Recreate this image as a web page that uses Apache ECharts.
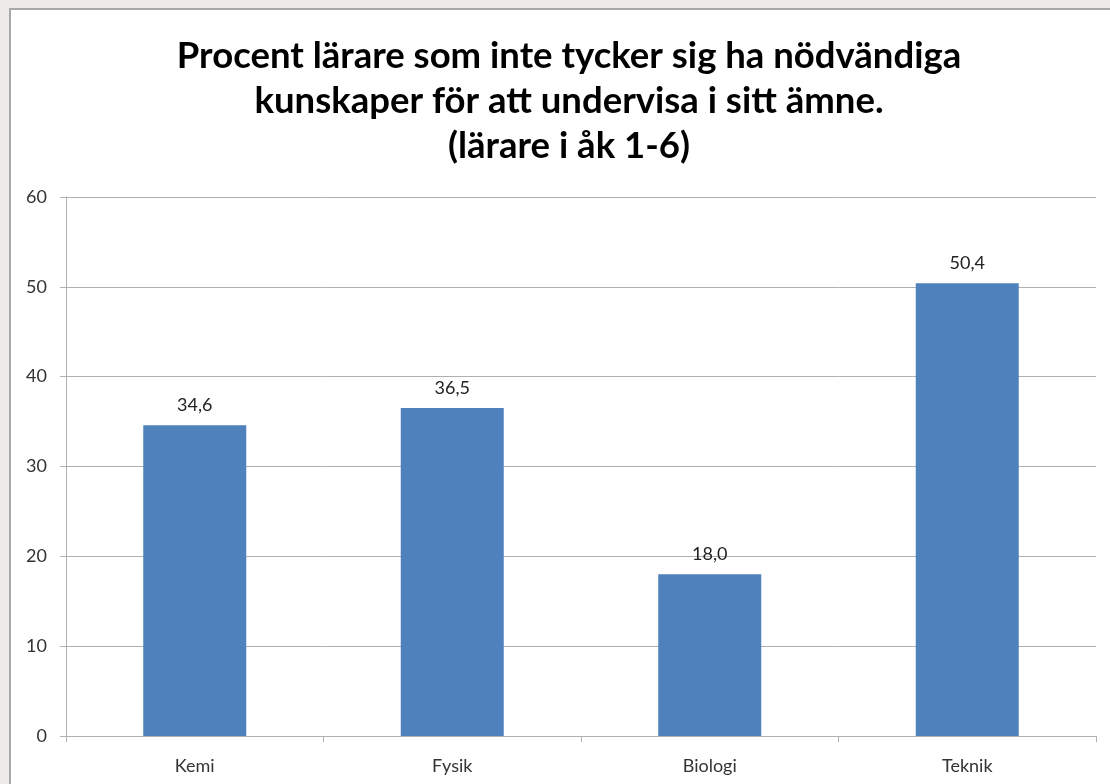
<!DOCTYPE html>
<html><head><meta charset="utf-8">
<script src="https://cdn.jsdelivr.net/npm/echarts@6/dist/echarts.min.js"></script>
<style>
html,body{margin:0;padding:0;background:#ECEBE7;width:1110px;height:784px;overflow:hidden;}
#frame{position:absolute;left:9px;top:8px;width:1120px;height:800px;background:#fff;border-left:2px solid #A8A8A8;border-top:2px solid #A8A8A8;}
#chart{position:absolute;left:0;top:0;width:1110px;height:784px;}
</style></head>
<body>
<div id="frame"></div>
<div id="chart"></div>
<script>
const categories = ['Kemi', 'Fysik', 'Biologi', 'Teknik'];
const values = [34.6, 36.5, 18.0, 50.4];
const titleLines = ['Procent lärare som inte tycker sig ha nödvändiga', 'kunskaper för att undervisa i sitt ämne.', '(lärare i åk 1-6)'];

const chart = echarts.init(document.getElementById('chart'));
chart.setOption({
  backgroundColor: 'transparent',
  animation: false,
  title: {
    text: titleLines.join('\n'),
    left: 564, top: 29, textAlign: 'center',
    textStyle: {fontFamily: 'Lato', fontWeight: 'bold', fontSize: 36.5, lineHeight: 45, color: '#000'}
  },
  grid: {left: 66, right: 14, top: 197, bottom: 48, containLabel: false},
  xAxis: {
    type: 'category', data: categories,
    axisLine: {lineStyle: {color: '#B0B0B0', width: 1}},
    axisTick: {show: true, alignWithLabel: false, length: 6, lineStyle: {color: '#B0B0B0'}},
    axisLabel: {margin: 21, fontFamily: 'Lato', fontSize: 18, color: '#333'}
  },
  yAxis: {
    type: 'value', min: 0, max: 60, interval: 10,
    axisLine: {show: true, lineStyle: {color: '#B0B0B0', width: 1}},
    axisTick: {show: true, length: 6, lineStyle: {color: '#B0B0B0'}},
    splitLine: {lineStyle: {color: '#B0B0B0', width: 1}},
    axisLabel: {margin: 19, fontFamily: 'Lato', fontSize: 18, color: '#333'}
  },
  series: [{
    type: 'bar', data: values, barWidth: '40%',
    itemStyle: {color: '#4F81BD'},
    label: {show: true, position: 'top', distance: 11, fontFamily: 'Lato', fontSize: 18, color: '#222',
      formatter: p => p.value.toFixed(1).replace('.', ',')}
  }]
});
</script>
</body></html>
